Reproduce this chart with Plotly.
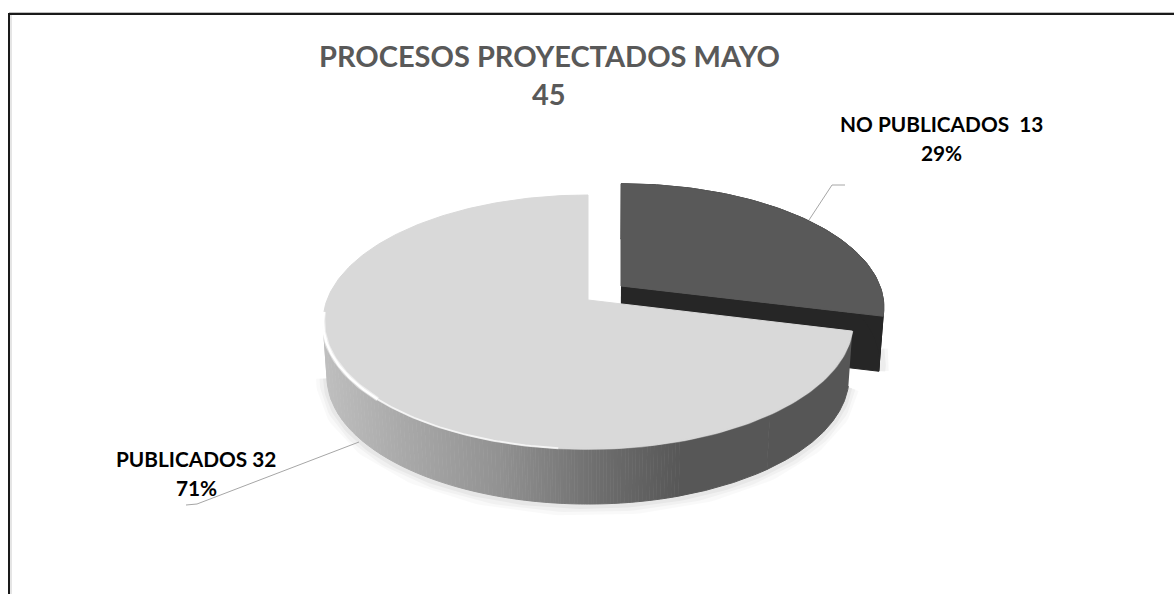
import numpy as np
import plotly.graph_objects as go

TITLE = "PROCESOS PROYECTADOS MAYO"
categories = ["NO PUBLICADOS", "PUBLICADOS"]
values = [13, 32]
total = sum(values)

WIDTH, HEIGHT = 1174, 594
# projection of the tilted pie into the pixel-like axes
APEX_X, APEX_Y = 588.0, 300.0
SCALE_X, SCALE_Y, PERSP = 261.0, 123.2, 0.1733
DEPTH = 55.0
TAPER = 0.985
EXPLODE_X, EXPLODE_V, EXPLODE_R = 33.0, 0.116, 1.012
FACE_MAIN, FACE_DARK, WALL_DARK = "#d9d9d9", "#595959", "#262626"
GRAD_POS = [320, 400, 500, 600, 680, 860]
GRAD_VAL = [192, 170, 146, 110, 88, 86]


def project(theta, radius=1.0, dv=0.0, dx=0.0):
    u = radius * np.sin(theta)
    v = radius * np.cos(theta) + dv
    d = 1 + PERSP * v
    return APEX_X + dx + SCALE_X * u / d, APEX_Y - SCALE_Y * v / d


def lower(x, y):
    return APEX_X + (x - APEX_X) * TAPER, y + DEPTH


def shade(x):
    return int(np.interp(x, GRAD_POS, GRAD_VAL))


def poly(fig, x, y, color):
    fig.add_trace(go.Scatter(x=x, y=y, mode="lines", fill="toself", fillcolor=color,
                             line=dict(color=color, width=1), hoverinfo="skip", showlegend=False))


def stroke(fig, x, y, color, width):
    fig.add_trace(go.Scatter(x=x, y=y, mode="lines", line=dict(color=color, width=width),
                             hoverinfo="skip", showlegend=False))


fig = go.Figure()
split = 2 * np.pi * values[0] / total
LEFT_END = 1.444 * np.pi
th_dark = np.linspace(0, split, 80)
th_main = np.linspace(split, 2 * np.pi, 240)

# soft shadows beneath the walls
sx, sy = lower(*project(np.linspace(split, LEFT_END, 160)))
for w, a in [(22, 0.025), (15, 0.03), (8, 0.04)]:
    stroke(fig, sx, sy + 1, f"rgba(0,0,0,{a})", w)
dsx, dsy = lower(*project(np.linspace(split - 0.18, split, 12), EXPLODE_R, EXPLODE_V, EXPLODE_X))
for w, a in [(16, 0.03), (9, 0.04)]:
    stroke(fig, dsx + 2, dsy, f"rgba(0,0,0,{a})", w)

# exploded dark slice
dx, dy = project(th_dark, EXPLODE_R, EXPLODE_V, EXPLODE_X)
ax, ay = project(np.array([0.0]), 0.0, EXPLODE_V, EXPLODE_X)
dlx, dly = lower(dx, dy)
alx, aly = lower(ax, ay)
poly(fig, np.r_[ax, dx[-1], dlx[-1], alx], np.r_[ay, dy[-1], dly[-1], aly], WALL_DARK)
poly(fig, np.r_[dx, dlx[::-1]], np.r_[dy, dly[::-1]], WALL_DARK)
poly(fig, np.r_[ax, dx, ax], np.r_[ay, dy, ay], FACE_DARK)

# main slice wall, painted as shaded bands of equal grey
fine = np.linspace(split, LEFT_END, 1200)
fx, fy = project(fine)
greys = np.array([shade(x) for x in fx])
start = 0
for i in range(1, len(fine) + 1):
    if i == len(fine) or greys[i] != greys[start]:
        stop = min(i, len(fine) - 1)
        bx_, by_ = fx[start:stop + 1], fy[start:stop + 1]
        lx, ly = lower(bx_, by_)
        g = greys[start]
        poly(fig, np.r_[bx_, lx[::-1]], np.r_[by_, ly[::-1]], f"rgb({g},{g},{g})")
        start = i

# main slice top
mx, my = project(th_main)
bx, by = project(np.array([0.0]), radius=0.0)
poly(fig, np.r_[bx, mx, bx], np.r_[by, my, by], FACE_MAIN)

# soft edge on the right front rim
rx, ry = project(np.linspace(split, 1.03 * np.pi, 60))
stroke(fig, rx, ry, "rgba(217,217,217,0.5)", 2)

# white bevel highlight along the front left rim
rx, ry = project(np.linspace(1.03 * np.pi, 1.25 * np.pi, 40))
stroke(fig, rx, ry, "rgba(255,255,255,0.75)", 2)
rx, ry = project(np.linspace(1.25 * np.pi, 1.47 * np.pi, 60))
stroke(fig, rx, ry, "rgba(255,255,255,0.5)", 4.5)
stroke(fig, rx, ry, "#ffffff", 2.5)

# leader lines
stroke(fig, [845, 832, 809], [185, 185, 220], "#a6a6a6", 1)
stroke(fig, [186, 197, 359], [505, 504, 442], "#a6a6a6", 1)

annotations = [
    dict(x=549, y=55, text=TITLE, font=dict(size=29, color="#595959")),
    dict(x=549, y=93, text=str(total), font=dict(size=29, color="#595959")),
    dict(x=941, y=123, text=f"{categories[0]}\u00a0 {values[0]}", font=dict(size=20.8, color="#000000")),
    dict(x=941, y=152, text=f"{values[0] / total:.0%}", font=dict(size=20.8, color="#000000")),
    dict(x=196, y=458, text=f"{categories[1]} {values[1]}", font=dict(size=20.8, color="#000000")),
    dict(x=196, y=487, text=f"{values[1] / total:.0%}", font=dict(size=20.8, color="#000000")),
]
for a in annotations:
    a.update(xref="x", yref="y", showarrow=False, xanchor="center", yanchor="middle")
    a["font"]["family"] = "Lato"
    a["text"] = f"<b>{a['text']}</b>"

shapes = [
    dict(type="line", xref="x", yref="y", x0=9, x1=WIDTH, y0=12.5, y1=12.5, line=dict(color="#bdbdbd", width=1)),
    dict(type="line", xref="x", yref="y", x0=11, x1=11, y0=15, y1=HEIGHT, line=dict(color="#dddddd", width=1.5)),
    dict(type="line", xref="x", yref="y", x0=8, x1=WIDTH, y0=14, y1=14, line=dict(color="#1a1a1a", width=2)),
    dict(type="line", xref="x", yref="y", x0=9, x1=9, y0=13, y1=HEIGHT, line=dict(color="#1a1a1a", width=2)),
]

fig.update_layout(
    width=WIDTH, height=HEIGHT, margin=dict(l=0, r=0, t=0, b=0),
    paper_bgcolor="#ffffff", plot_bgcolor="#ffffff", showlegend=False,
    xaxis=dict(range=[0, WIDTH], visible=False, fixedrange=True),
    yaxis=dict(range=[HEIGHT, 0], visible=False, fixedrange=True),
    annotations=annotations, shapes=shapes,
)
fig.write_html("out.html", post_script="document.body.style.margin='0';window.dispatchEvent(new Event('resize'));", config={"displayModeBar": False})
